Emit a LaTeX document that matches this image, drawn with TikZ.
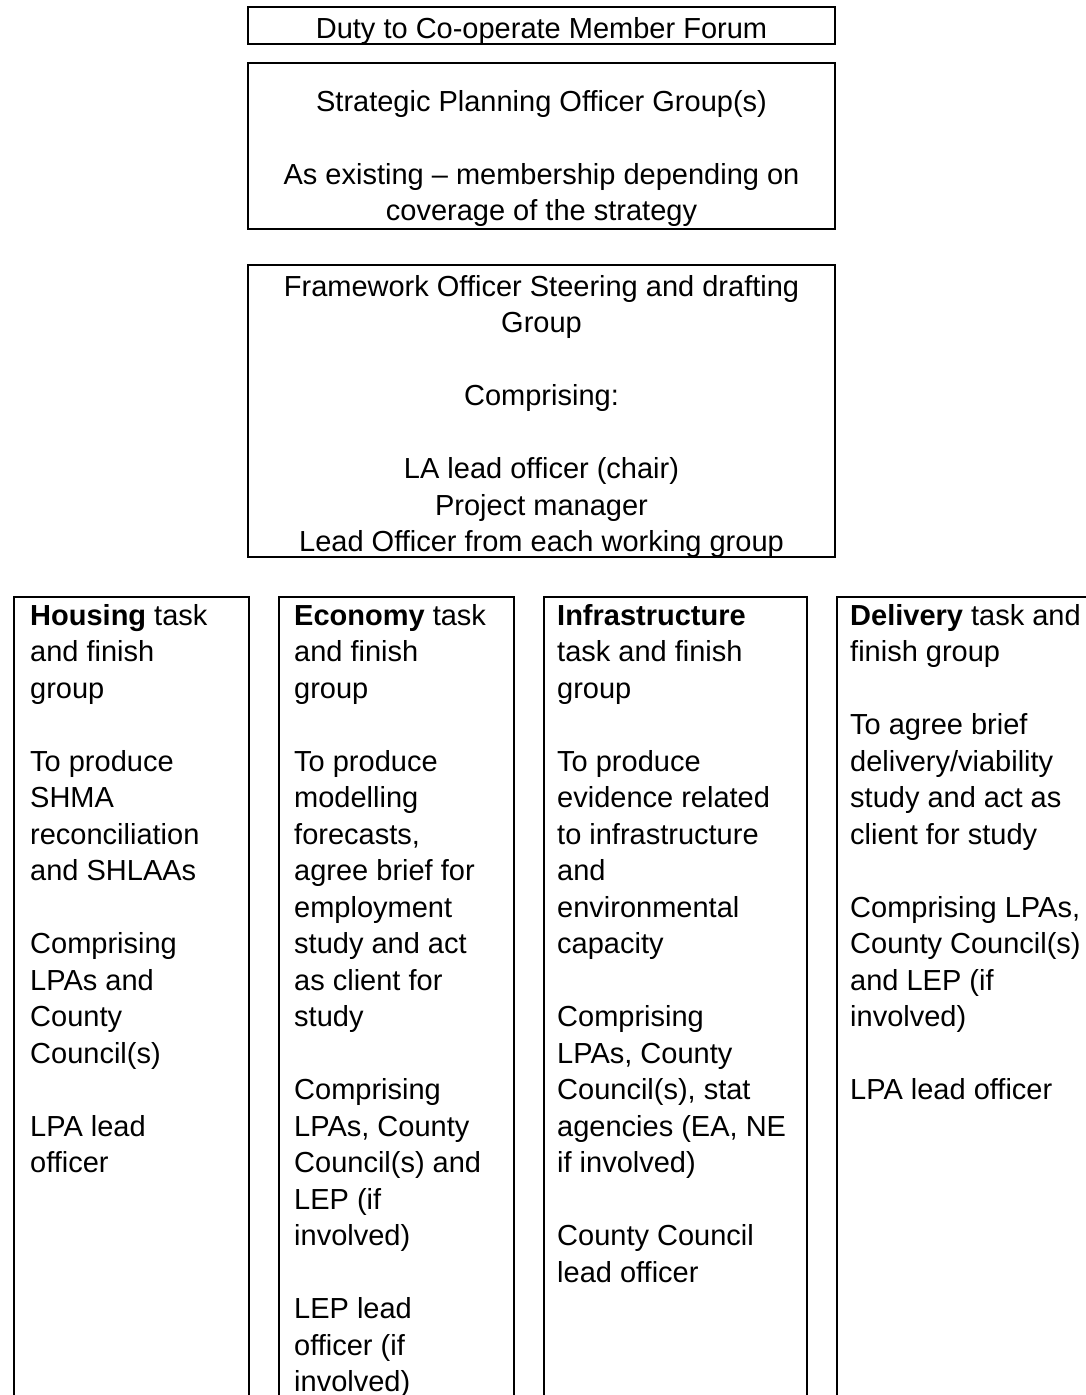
\documentclass[tikz,border=0pt]{standalone}
\usepackage{fontspec}
\setmainfont{Liberation Sans}
\begin{document}
\begin{tikzpicture}[x=1pt,y=-1pt,
  boxline/.style={draw=black,line width=2pt},
  txt/.style={inner sep=0pt,font=\fontsize{29}{36.5}\selectfont},
  ctxt/.style={txt,anchor=north,align=center},
  ltxt/.style={txt,anchor=north west,align=left}]
\clip (0,0) rectangle (1086,1395);
\fill[white] (0,0) rectangle (1086,1395);
% top boxes
\draw[boxline] (248,7) rectangle (835,44);
\draw[boxline] (248,63) rectangle (835,229);
\draw[boxline] (248,265) rectangle (835,557);
\node[ctxt] (forum) at (541.5,12.5) {\strut Duty to Co-operate Member Forum};
\node[ctxt] (spog) at (541.5,85.5) {\strut Strategic Planning Officer Group(s)\\[36.5pt]
As existing – membership depending on\\coverage of the strategy};
\node[ctxt] (fosg) at (541.5,270.5) {\strut Framework Officer Steering and drafting\\Group\\[36.5pt]
Comprising:\\[36.5pt]
LA lead officer (chair)\\Project manager\\Lead Officer from each working group};
% bottom boxes (open at the bottom)
\draw[boxline] (14,1400) -- (14,597) -- (249,597) -- (249,1400);
\draw[boxline] (279,1400) -- (279,597) -- (514,597) -- (514,1400);
\draw[boxline] (544,1400) -- (544,597) -- (807,597) -- (807,1400);
\draw[boxline] (837,1400) -- (837,597) -- (1100,597);
\node[ltxt] (housing) at (30,599.5) {\strut\textbf{Housing} task\\and finish\\group\\[36.5pt]
To produce\\SHMA\\reconciliation\\and SHLAAs\\[36.5pt]
Comprising\\LPAs and\\County\\Council(s)\\[36.5pt]
LPA lead\\officer};
\node[ltxt] (economy) at (294,599.5) {\strut\textbf{Economy} task\\and finish\\group\\[36.5pt]
To produce\\modelling\\forecasts,\\agree brief for\\employment\\study and act\\as client for\\study\\[36.5pt]
Comprising\\LPAs, County\\Council(s) and\\LEP (if\\involved)\\[36.5pt]
LEP lead\\officer (if\\involved)};
\node[ltxt] (infra) at (557,599.5) {\strut\textbf{Infrastructure}\\task and finish\\group\\[36.5pt]
To produce\\evidence related\\to infrastructure\\and\\environmental\\capacity\\[36.5pt]
Comprising\\LPAs, County\\Council(s), stat\\agencies (EA, NE\\if involved)\\[36.5pt]
County Council\\lead officer};
\node[ltxt] (delivery) at (850,599.5) {\strut\textbf{Delivery} task and\\finish group\\[36.5pt]
To agree brief\\delivery/viability\\study and act as\\client for study\\[36.5pt]
Comprising LPAs,\\County Council(s)\\and LEP (if\\involved)\\[36.5pt]
LPA lead officer};
\end{tikzpicture}
\end{document}
